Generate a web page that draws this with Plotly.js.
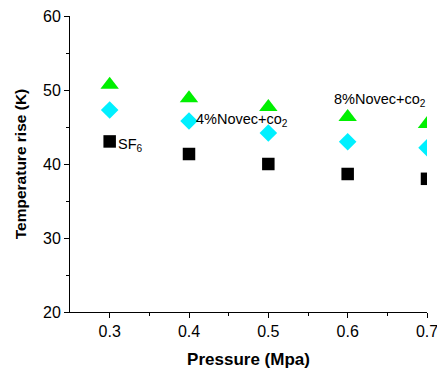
<!DOCTYPE html>
<html><head><meta charset="utf-8">
<script src="https://cdn.plot.ly/plotly-3.0.1.min.js"></script>
<style>body{margin:0;padding:0;background:#fff}#chart{width:437px;height:371px}</style>
</head><body><div id="chart"></div>
<script>
const pressure = [0.3, 0.4, 0.5, 0.6, 0.7];
const sf6 = [43.05, 41.35, 40.0, 38.65, 38.0];
const novec4 = [47.3, 45.8, 44.2, 43.0, 42.2];
const novec8 = [50.7, 48.9, 47.7, 46.35, 45.4];
const labels = ['SF<sub>6</sub>', '4%Novec+co<sub>2</sub>', '8%Novec+co<sub>2</sub>'];

const traces = [
  {x: pressure, y: sf6, mode: 'markers', type: 'scatter',
   marker: {symbol: 'square', size: 12.5, color: '#000000'}},
  {x: pressure, y: novec4, mode: 'markers', type: 'scatter',
   marker: {symbol: 'diamond', size: 13.5, color: '#00F0FF'}},
  {x: pressure, y: novec8, mode: 'markers', type: 'scatter',
   marker: {symbol: 'triangle-up', size: 16, color: '#00F000'}}
];

const layout = {
  width: 437, height: 371,
  margin: {l: 70, r: 10, t: 16, b: 59},
  showlegend: false,
  paper_bgcolor: '#fff', plot_bgcolor: '#fff',
  font: {family: 'Liberation Sans, Arial, sans-serif', color: '#000'},
  xaxis: {
    range: [0.25, 0.7], tickvals: [0.3, 0.4, 0.5, 0.6, 0.7],
    ticktext: ['0.3', '0.4', '0.5', '0.6', '0.7'],
    ticklabeloverflow: 'allow',
    ticks: 'outside', ticklen: 5, tickwidth: 1, tickcolor: '#000',
    minor: {tickvals: [0.35, 0.45, 0.55, 0.65], ticks: 'outside', ticklen: 3, tickcolor: '#000'},
    showline: true, linecolor: '#000', linewidth: 1, showgrid: false, zeroline: false,
    tickfont: {size: 16},
    title: {text: '<b>Pressure (Mpa)</b>', font: {size: 17}, standoff: 13}
  },
  yaxis: {
    range: [20, 60], tickvals: [20, 30, 40, 50, 60],
    ticks: 'outside', ticklen: 5, tickwidth: 1, tickcolor: '#000',
    minor: {tickvals: [25, 35, 45, 55], ticks: 'outside', ticklen: 3, tickcolor: '#000'},
    showline: true, linecolor: '#000', linewidth: 1, showgrid: false, zeroline: false,
    tickfont: {size: 16},
    title: {text: '<b>Temperature rise (K)</b>', font: {size: 15.5}, standoff: 12}
  },
  annotations: [
    {x: pressure[0], y: sf6[0], text: labels[0], showarrow: false, xanchor: 'left', yanchor: 'middle',
     xshift: 6, yshift: -4, font: {size: 14.5, color: '#000'}},
    {x: pressure[1], y: novec4[1], text: labels[1], showarrow: false, xanchor: 'left', yanchor: 'middle',
     xshift: 5, yshift: 1, font: {size: 14.5, color: '#000'}},
    {x: pressure[3], y: novec8[3], text: labels[2], showarrow: false, xanchor: 'left', yanchor: 'bottom',
     xshift: -16, yshift: 6, font: {size: 14.5, color: '#000'}}
  ]
};
Plotly.newPlot('chart', traces, layout, {displayModeBar: false, staticPlot: true});
</script></body></html>
